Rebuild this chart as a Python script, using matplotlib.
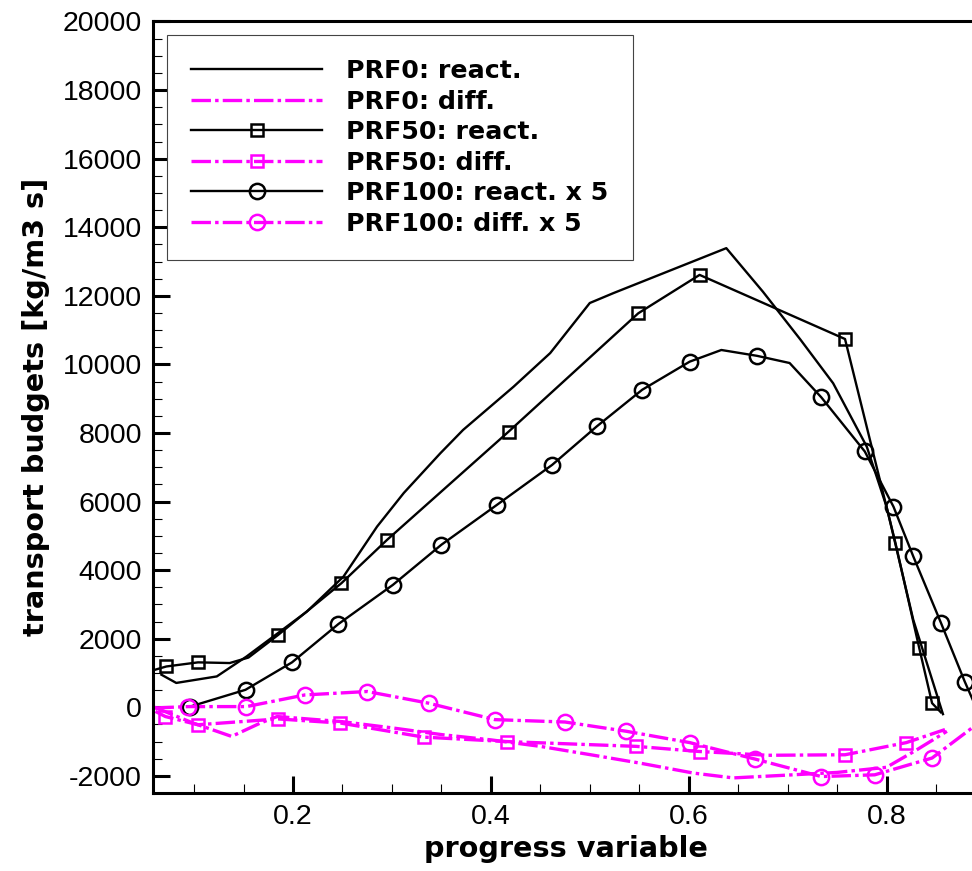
import matplotlib
matplotlib.use('Agg')
import matplotlib.pyplot as plt
from matplotlib.lines import Line2D
from matplotlib.ticker import MultipleLocator

#Values
x_prf0_react = [0.067, 0.082, 0.123, 0.153, 0.214, 0.251, 0.285, 0.312, 0.349, 0.372, 0.423,
                0.460, 0.500, 0.524, 0.638, 0.675, 0.713, 0.746, 0.780, 0.800, 0.827, 0.857]
y_prf0_react = [950, 710, 900, 1480, 2790, 3810, 5270, 6250, 7410, 8090, 9350,
                10330, 11790, 12080, 13390, 12120, 10720, 9450, 7600, 5850, 2550, -200]

x_prf0_diff = [0.060, 0.066, 0.099, 0.138, 0.167, 0.184, 0.250, 0.300, 0.351, 0.400,
               0.450, 0.500, 0.551, 0.605, 0.645, 0.705, 0.750, 0.800, 0.830, 0.861]
y_prf0_diff = [0, -70, -460, -850, -460, -270, -420, -600, -800, -950,
               -1140, -1380, -1630, -1920, -2060, -1970, -1900, -1750, -1250, -700]

x_prf50_react = [0.060, 0.072, 0.104, 0.136, 0.155, 0.185, 0.249, 0.295, 0.418, 0.549,
                 0.611, 0.758, 0.809, 0.833, 0.846, 0.855]
y_prf50_react = [1090, 1190, 1310, 1290, 1450, 2110, 3620, 4880, 8040, 11490,
                 12610, 10740, 4790, 1730, 120, -150]
mk_prf50_react = [1, 2, 5, 6, 7, 8, 9, 10, 11, 12, 13, 14]

x_prf50_diff = [0.061, 0.071, 0.104, 0.185, 0.248, 0.332, 0.416, 0.547, 0.611, 0.680,
                0.758, 0.820, 0.859]
y_prf50_diff = [-120, -270, -510, -340, -460, -870, -1000, -1140, -1290, -1400,
                -1385, -1030, -650]
mk_prf50_diff = [1, 2, 3, 4, 5, 6, 7, 8, 10, 11]

x_prf100_react = [0.096, 0.152, 0.199, 0.246, 0.301, 0.350, 0.406, 0.462, 0.507, 0.553,
                  0.601, 0.633, 0.669, 0.702, 0.734, 0.778, 0.807, 0.827, 0.855, 0.879, 0.895]
y_prf100_react = [20, 510, 1310, 2430, 3570, 4740, 5900, 7070, 8190, 9260,
                  10080, 10420, 10250, 10040, 9040, 7460, 5850, 4400, 2460, 750, -300]
mk_prf100_react = [0, 1, 2, 3, 4, 5, 6, 7, 8, 9, 10, 12, 14, 15, 16, 17, 18, 19]

x_prf100_diff = [0.060, 0.094, 0.153, 0.212, 0.275, 0.337, 0.404, 0.475, 0.537, 0.601,
                 0.667, 0.734, 0.788, 0.846, 0.886]
y_prf100_diff = [-20, 20, 20, 360, 460, 120, -360, -430, -700, -1030,
                 -1510, -2020, -1970, -1480, -610]
mk_prf100_diff = [1, 2, 3, 4, 5, 6, 7, 8, 9, 10, 11, 12, 13]

labels = ['PRF0: react.', 'PRF0: diff.', 'PRF50: react.', 'PRF50: diff.',
          'PRF100: react. x 5', 'PRF100: diff. x 5']

#Styling
plt.rcParams['axes.unicode_minus'] = False
plt.rcParams['lines.scale_dashes'] = False
MAGENTA = '#ff00ff'
DASHDOT = (0, (14, 3, 2.5, 3))
BLACK_LW = 1.7
MAG_LW = 2.4


def curve(ax, x, y, color, ls, lw, marker=None, idx=None, ms=9):
	#Draws the line, then the hollow markers on the chosen points
	ax.plot(x, y, color=color, ls=ls, lw=lw, zorder=2)
	if marker is not None:
		ax.plot([x[i] for i in idx], [y[i] for i in idx], ls='none', marker=marker,
				ms=ms, mfc='none', mec=color, mew=1.8, zorder=3)
	return Line2D([], [], color=color, ls=ls, lw=lw, marker=marker, ms=ms,
				  mfc='none', mec=color, mew=1.8)


fig = plt.figure(figsize=(9.72, 8.71), dpi=100)
ax = fig.add_axes([153 / 972, 78 / 871, 832.5 / 972, 771.5 / 871])

handles = [
	curve(ax, x_prf0_react, y_prf0_react, 'black', '-', BLACK_LW),
	curve(ax, x_prf0_diff, y_prf0_diff, MAGENTA, DASHDOT, MAG_LW),
	curve(ax, x_prf50_react, y_prf50_react, 'black', '-', BLACK_LW, 's', mk_prf50_react, 9),
	curve(ax, x_prf50_diff, y_prf50_diff, MAGENTA, DASHDOT, MAG_LW, 's', mk_prf50_diff, 9),
	curve(ax, x_prf100_react, y_prf100_react, 'black', '-', BLACK_LW, 'o', mk_prf100_react, 11),
	curve(ax, x_prf100_diff, y_prf100_diff, MAGENTA, DASHDOT, MAG_LW, 'o', mk_prf100_diff, 11),
]

#Axes formatting
ax.set_xlim(0.0585, 0.9)
ax.set_ylim(-2500, 20000)
ax.xaxis.set_major_locator(MultipleLocator(0.2))
ax.xaxis.set_minor_locator(MultipleLocator(0.05))
ax.yaxis.set_major_locator(MultipleLocator(2000))
ax.yaxis.set_minor_locator(MultipleLocator(500))
ax.tick_params(which='major', direction='in', length=12, width=2.2, labelsize=20.5, pad=8)
ax.tick_params(which='minor', direction='in', length=6.5, width=0.8)
for s in ax.spines.values():
	s.set_linewidth(2.2)
for lbl in ax.get_xticklabels() + ax.get_yticklabels():
	lbl.set_fontfamily('Liberation Sans')

ax.set_xlabel('progress variable', fontsize=20.7, fontweight='bold')
ax.set_ylabel('transport budgets [kg/m3 s]', fontsize=20.7, fontweight='bold')
ax.xaxis.set_label_coords(0.4955, -0.055)
ax.yaxis.set_label_coords(-0.124, 0.5)

leg = ax.legend(handles, labels, loc='upper left', bbox_to_anchor=(0.0168, 0.9825),
				borderaxespad=0, prop={'weight': 'bold', 'size': 18.2},
				handlelength=5.2, handletextpad=0.95, labelspacing=0.26,
				borderpad=0.95, fancybox=False, framealpha=1)
leg.get_frame().set_edgecolor('#444444')
leg.get_frame().set_linewidth(0.8)

plt.savefig('out.png', dpi=100)
